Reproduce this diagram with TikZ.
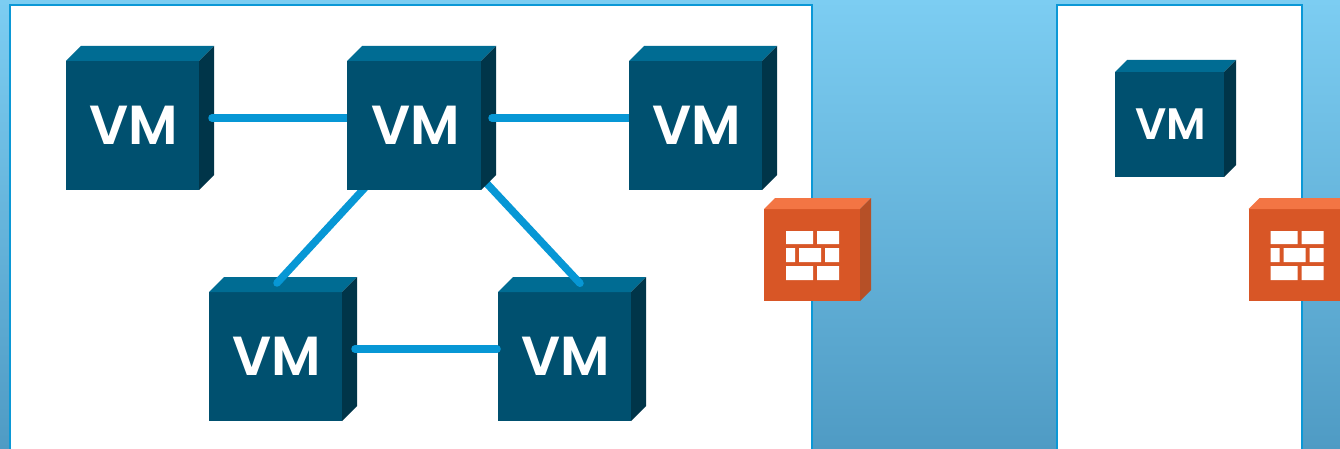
\documentclass[tikz,border=0pt]{standalone}
\usepackage{fontspec}
\newfontfamily\vmfont{Poppins SemiBold}
\usetikzlibrary{backgrounds}
\pgfdeclarelayer{lone}\pgfdeclarelayer{ltwo}\pgfdeclarelayer{lthree}\pgfdeclarelayer{lfour}\pgfdeclarelayer{lfive}
\pgfsetlayers{lone,ltwo,lthree,lfour,lfive,main}
\definecolor{skytop}{HTML}{7CCDF2}
\definecolor{skybot}{HTML}{4F9BC4}
\definecolor{edgeblue}{HTML}{0B98D6}
\definecolor{linkblue}{HTML}{0797D5}
\definecolor{vmfront}{HTML}{00506F}
\definecolor{vmtop}{HTML}{006C93}
\definecolor{vmside}{HTML}{003549}
\definecolor{fwfront}{HTML}{D85626}
\definecolor{fwtop}{HTML}{F37544}
\definecolor{fwside}{HTML}{B65027}
\tikzset{
  panel/.style={fill=white,draw=edgeblue,line width=2pt},
  link/.style={draw=linkblue,line width=7.5pt,line cap=round},
  vmbox/.style={fill=vmfront,inner sep=0pt,outer sep=0pt,text=white,align=center},
  fwbox/.style={fill=fwfront,inner sep=0pt,outer sep=0pt,minimum width=96pt,minimum height=92pt},
  brick/.style={fill=white}
}
% name, centre x, centre y, width, height, depth, font size, label
\newcommand{\vmcube}[8]{%
  \node[vmbox,minimum width=#4pt,minimum height=#5pt,font=\vmfont\fontsize{#7}{#7}\selectfont] (#1) at (#2,#3) {\hspace*{3pt}#8};
  \fill[vmtop] (#1.north west) -- ++(#6pt,#6pt) -- ++(#4pt,0pt) -- ++(-#6pt,-#6pt) -- cycle;
  \fill[vmside] (#1.north east) -- ++(#6pt,#6pt) -- ++(0pt,-#5pt) -- ++(-#6pt,-#6pt) -- cycle;
}
\newcommand{\fwcube}[3]{%
  \node[fwbox] (#1) at (#2,#3) {};
  \fill[fwtop] (#1.north west) -- ++(11pt,11pt) -- ++(96pt,0pt) -- ++(-11pt,-11pt) -- cycle;
  \fill[fwside] (#1.north east) -- ++(11pt,11pt) -- ++(0pt,-92pt) -- ++(-11pt,-11pt) -- cycle;
  \begin{scope}[shift={(#2-812,#3-255)}]
    \fill[brick] (786,231) rectangle (813,244) (817,231) rectangle (839,244);
    \fill[brick] (786,248) rectangle (795,262) (799,248) rectangle (821,262) (825,248) rectangle (839,262);
    \fill[brick] (786,266) rectangle (813,280) (817,266) rectangle (839,280);
  \end{scope}
}
\begin{document}
\begin{tikzpicture}[x=1pt,y=-1pt]
\useasboundingbox (0,0) rectangle (1340,449);
\begin{pgfonlayer}{lone}
\shade[top color=skytop,bottom color=skybot] (0,0) rectangle (1340,449);
\path[panel] (10,5) rectangle (812,460);
\path[panel] (1057,5) rectangle (1302,460);
\vmcube{vma}{132.5}{125.5}{133}{129}{15}{55}{VM}
\vmcube{vmd}{275.5}{356.5}{133}{129}{15}{55}{VM}
\vmcube{vme}{564.5}{356.5}{133}{129}{15}{55}{VM}
\end{pgfonlayer}
\begin{pgfonlayer}{lthree}
\vmcube{vmb}{414}{125.5}{134}{129}{15}{55}{VM}
\end{pgfonlayer}
\begin{pgfonlayer}{lfive}
\vmcube{vmc}{695.5}{125.5}{133}{129}{15}{55}{VM}
\end{pgfonlayer}
\begin{pgfonlayer}{ltwo}
\draw[link] ([xshift=13pt,yshift=7.5pt]vma.east) -- ([yshift=7.5pt]vmb.west);
\draw[link] ([xshift=1.5pt,yshift=9pt]vmd.north) -- ([xshift=-42pt,yshift=10pt]vmb.south);
\draw[link] ([xshift=15.5pt,yshift=8.7pt]vme.north) -- ([xshift=63pt,yshift=17pt]vmb.south);
\draw[link] ([xshift=13pt,yshift=7.5pt]vmd.east) -- ([xshift=-1pt,yshift=7.5pt]vme.west);
\end{pgfonlayer}
\begin{pgfonlayer}{lfour}
\draw[link] ([xshift=11pt,yshift=7.5pt]vmb.east) -- ([yshift=7.5pt]vmc.west);
\end{pgfonlayer}
\vmcube{vmf}{1169.5}{124.5}{109}{105}{12}{44}{VM}
\fwcube{fwa}{812}{255}
\fwcube{fwb}{1296.5}{255}
\end{tikzpicture}
\end{document}
